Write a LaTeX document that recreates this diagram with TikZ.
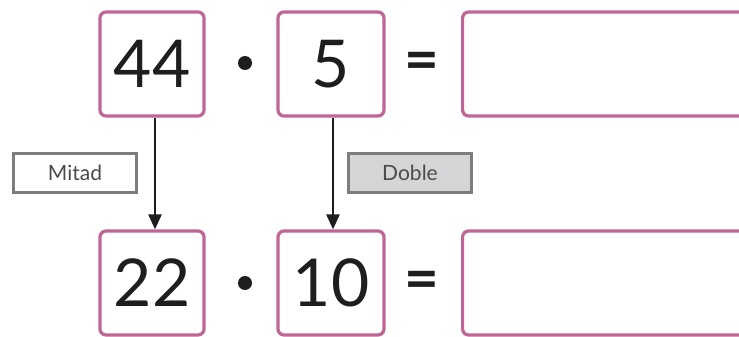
\documentclass[tikz,border=0pt]{standalone}
\usepackage{fontspec}
\setmainfont{Lato}
\usetikzlibrary{arrows.meta}
\definecolor{boxpink}{RGB}{192,102,150}
\definecolor{tagfill}{RGB}{212,213,215}
\definecolor{tagedge}{RGB}{125,125,125}
\definecolor{ink}{RGB}{30,30,30}
\begin{document}
\begin{tikzpicture}[x=1pt,y=-1pt,
  numbox/.style={draw=boxpink,line width=3.2pt,rounded corners=6pt,fill=white,
    minimum width=104pt,minimum height=104pt,inner sep=0pt,font=\fontsize{66}{66}\selectfont,text=ink},
  ansbox/.style={draw=boxpink,line width=3.2pt,rounded corners=6pt,fill=white,
    minimum width=320pt,minimum height=104pt,inner sep=0pt,anchor=west},
  tagbox/.style={draw=tagedge,line width=3pt,minimum width=123pt,minimum height=39pt,
    inner sep=0pt,font=\fontsize{21}{21}\selectfont,text=ink!80},
  sym/.style={font=\bfseries\fontsize{60}{60}\selectfont,text=ink,inner sep=0pt},
  dotmark/.style={circle,fill=ink,minimum size=14pt,inner sep=0pt},
  down/.style={-{Triangle[length=15pt,width=13pt]},line width=2.4pt,draw=ink}]
\useasboundingbox (0,0) rectangle (739,337);
\clip (0,0) rectangle (739,337);
% top row
\node[numbox] (n44) at (152,64) {44};
\node[dotmark] (d1) at (245,63) {};
\node[numbox,minimum width=106pt] (n5) at (331,64) {5};
\node[sym] (eq1) at (422,66) {=};
\node[ansbox] (r1) at (461,64) {};
% bottom row
\node[numbox] (n22) at (152,283) {22};
\node[dotmark] (d2) at (245,283) {};
\node[numbox,minimum width=106pt] (n10) at (331,283) {10};
\node[sym] (eq2) at (422,285) {=};
\node[ansbox] (r2) at (461,283) {};
% operation tags
\node[tagbox] (mitad) at (75,173) {Mitad};
\node[tagbox,fill=tagfill] (doble) at (410,173) {Doble};
% arrows
\draw[down] ([xshift=3pt]n44.south) -- ([xshift=3pt]n22.north);
\draw[down] ([xshift=2pt]n5.south) -- ([xshift=2pt]n10.north);
\end{tikzpicture}
\end{document}
